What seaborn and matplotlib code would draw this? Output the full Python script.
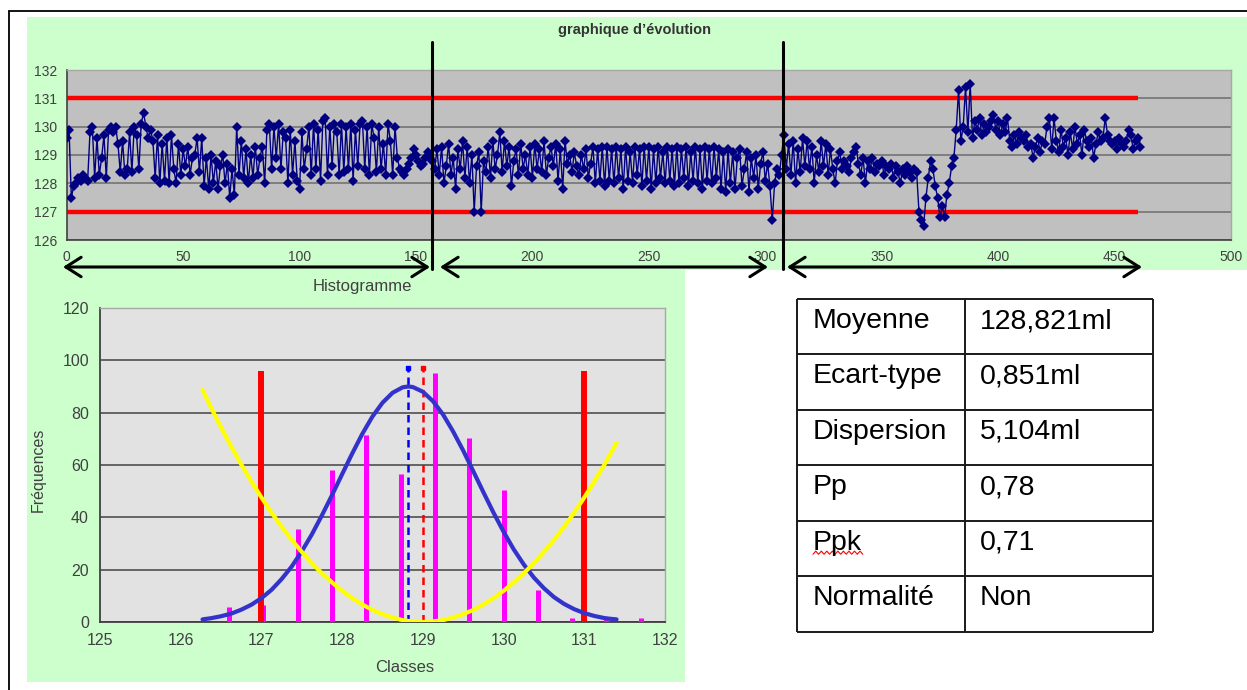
import numpy as np
import pandas as pd
import matplotlib
matplotlib.use("Agg")
import matplotlib.pyplot as plt
import seaborn as sns
from matplotlib.patches import Rectangle, FancyArrowPatch
from matplotlib.lines import Line2D

# ---------------- data ----------------
evo_values = [
    129.6, 129.9, 127.5, 127.9, 128.0, 128.2, 128.1, 128.3, 128.2, 128.1,
    129.8, 130.0, 128.2, 129.6, 128.3, 128.9, 129.7, 128.2, 129.9, 130.0,
    129.8, 130.0, 129.4, 128.4, 129.5, 128.3, 128.5, 129.8, 128.4, 130.0,
    129.7, 128.5, 130.1, 130.5, 130.0, 129.6, 129.9, 129.5, 128.2, 129.7,
    128.0, 129.4, 128.1, 129.6, 128.0, 129.7, 128.5, 128.0, 129.4, 128.3,
    129.2, 128.6, 129.3, 128.3, 128.9, 129.0, 129.6, 128.4, 129.6, 127.9,
    128.9, 127.8, 129.0, 128.0, 128.8, 127.8, 128.6, 129.0, 128.0, 128.7,
    127.5, 128.5, 127.6, 130.0, 128.3, 129.5, 128.2, 129.2, 128.0, 129.0,
    128.2, 129.3, 128.3, 128.9, 129.3, 128.0, 129.9, 130.1, 128.5, 130.0,
    128.9, 130.1, 128.5, 129.8, 129.6, 128.0, 129.9, 128.3, 129.5, 128.1,
    127.8, 129.8, 128.5, 129.2, 130.0, 128.3, 130.1, 128.5, 129.9, 128.1,
    130.2, 130.3, 128.3, 130.0, 128.6, 130.1, 129.8, 128.3, 130.1, 128.4,
    130.0, 128.5, 130.1, 128.1, 129.9, 128.6, 130.1, 130.2, 128.5, 130.0,
    128.3, 130.1, 129.6, 128.4, 130.0, 128.5, 129.4, 128.3, 130.1, 129.5,
    128.3, 130.0, 128.9, 128.5, 128.4, 128.3, 128.5, 128.7, 128.9, 129.2,
    129.0, 128.8, 128.6, 128.7, 128.9, 129.1, 128.9, 128.8, 128.5, 129.2,
    128.3, 129.3, 128.0, 128.6, 129.4, 128.3, 128.9, 127.8, 129.2, 128.5,
    129.5, 128.2, 129.3, 128.0, 129.0, 127.0, 128.6, 129.1, 127.0, 128.8,
    128.4, 129.3, 128.2, 129.5, 128.5, 129.0, 129.8, 128.4, 129.5, 128.6,
    129.3, 127.9, 128.8, 129.2, 128.3, 129.4, 128.5, 129.0, 128.3, 129.3,
    128.2, 129.4, 128.5, 129.2, 128.4, 129.5, 128.3, 128.9, 129.3, 128.6,
    129.4, 128.1, 129.2, 127.8, 129.5, 128.7, 129.0, 128.4, 129.1, 128.6,
    128.3, 129.0, 128.5, 129.2, 128.2, 128.7, 129.3, 128.0, 129.2, 128.1,
    129.3, 127.9, 129.3, 128.1, 129.2, 128.0, 129.3, 128.2, 129.2, 127.8,
    129.3, 128.1, 129.1, 128.0, 129.3, 128.3, 129.2, 127.9, 129.3, 128.1,
    129.3, 127.8, 129.2, 128.0, 129.3, 128.2, 129.1, 128.0, 129.3, 128.1,
    129.2, 127.9, 129.3, 128.0, 129.2, 128.2, 129.3, 127.9, 129.1, 128.1,
    129.3, 128.0, 129.2, 127.8, 129.3, 128.1, 129.2, 128.0, 129.3, 128.2,
    129.2, 127.8, 129.1, 127.7, 129.2, 128.0, 129.1, 127.8, 128.9, 129.2,
    127.9, 128.5, 129.1, 127.7, 128.9, 128.2, 129.0, 127.8, 128.7, 129.1,
    128.1, 128.7, 127.9, 126.7, 128.0, 128.5, 128.3, 129.0, 129.7, 128.5,
    129.4, 128.3, 129.5, 128.0, 129.2, 128.4, 129.6, 128.6, 129.5, 128.5,
    129.3, 128.0, 129.0, 128.4, 129.5, 128.6, 129.4, 128.3, 129.2, 128.5,
    128.0, 128.8, 129.1, 128.5, 128.8, 128.6, 128.4, 128.9, 129.1, 129.3,
    128.7, 128.3, 128.9, 128.0, 128.8, 128.5, 128.9, 128.4, 128.7, 128.6,
    128.8, 128.3, 128.6, 128.5, 128.7, 128.2, 128.6, 128.4, 128.0, 128.5,
    128.3, 128.6, 128.4, 128.2, 128.5, 128.4, 127.0, 126.7, 126.5, 127.5,
    128.2, 128.8, 128.5, 127.9, 127.5, 126.8, 127.2, 126.8, 127.6, 128.0,
    128.6, 128.9, 129.9, 131.3, 129.5, 130.0, 131.4, 129.8, 131.5, 129.6,
    130.2, 129.9, 130.3, 129.7, 130.1, 129.8, 130.0, 130.2, 130.4, 129.9,
    130.2, 129.7, 130.1, 129.8, 130.3, 129.5, 129.3, 129.7, 129.4, 129.8,
    129.6, 129.5, 129.7, 129.3, 129.4, 128.9, 129.3, 129.6, 129.1, 129.5,
    129.4, 130.0, 130.3, 129.2, 130.3, 129.5, 129.1, 129.9, 129.3, 129.6,
    129.0, 129.8, 129.2, 130.0, 129.4, 129.7, 129.0, 129.9, 129.5, 129.3,
    129.6, 128.9, 129.4, 129.8, 129.5, 129.6, 130.3, 129.7, 129.5, 129.4,
    129.5, 129.2, 129.6, 129.4, 129.3, 129.5, 129.9, 129.7, 129.2, 129.5,
    129.6, 129.3,
]
lsl, usl = 127, 131
limit_line_end = 460
evo_xticks = [0, 50, 100, 150, 200, 250, 300, 350, 400, 450, 500]
evo_yticks = [126, 127, 128, 129, 130, 131, 132]

hist_classes = [126.6, 127.025, 127.45, 127.875, 128.3, 128.725, 129.15,
                129.575, 130.0, 130.425, 130.85, 131.275, 131.7]
hist_freq = [5.8, 6.5, 35.5, 58, 71.5, 56.4, 95.3, 70.4, 50.4, 12.2, 1.5, 1.5, 1.5]

curve_x = [126.27, 126.375, 126.5, 126.625, 126.75, 126.875, 127.0, 127.125,
           127.25, 127.375, 127.5, 127.625, 127.75, 127.875, 128.0, 128.125,
           128.25, 128.375, 128.5, 128.625, 128.75, 128.82, 128.875, 129.0,
           129.125, 129.25, 129.375, 129.5, 129.625, 129.75, 129.875, 130.0,
           130.125, 130.25, 130.375, 130.5, 130.625, 130.75, 130.875, 131.0,
           131.125, 131.25, 131.33, 131.4]
normal_y = [1.0, 1.45, 2.2, 3.2, 4.7, 6.6, 9.1, 12.3,
            16.4, 21.2, 27.0, 33.5, 40.8, 48.5, 56.5, 64.4,
            71.9, 78.5, 83.8, 87.6, 89.7, 90.0, 89.8, 88.0,
            84.4, 79.3, 72.8, 65.5, 57.6, 49.6, 41.8, 34.5,
            27.8, 22.0, 17.0, 12.9, 9.5, 6.9, 4.9, 3.4,
            2.3, 1.5, 1.2, 1.0]
yellow_y = [88.7, 82.0, 74.4, 67.1, 60.2, 53.7, 47.6, 41.8,
            36.4, 31.4, 26.8, 22.5, 18.6, 15.1, 11.9, 9.1,
            6.7, 4.6, 3.0, 1.7, 0.7, 0.4, 0.2, 0.0,
            0.2, 0.7, 1.7, 3.0, 4.6, 6.7, 9.1, 11.9,
            15.1, 18.6, 22.5, 26.8, 31.4, 36.4, 41.8, 47.6,
            53.7, 60.2, 64.6, 68.5]
mean_val = 128.821
target_val = 129.0
limit_bar_height = 96
dashed_height = 97
hist_xticks = [125, 126, 127, 128, 129, 130, 131, 132]
hist_yticks = [0, 20, 40, 60, 80, 100, 120]

table_labels = ["Moyenne", "Ecart-type", "Dispersion", "Pp", "Ppk", "Normalité"]
table_values = ["128,821ml", "0,851ml", "5,104ml", "0,78", "0,71", "Non"]

# ---------------- style ----------------
sns.set_style("white")
plt.rcParams['font.family'] = ['Liberation Sans', 'DejaVu Sans']

W, H = 1247, 690
fig = plt.figure(figsize=(W / 100, H / 100), dpi=100)
fig.patch.set_facecolor('white')


def fx(px):
    return px / W


def fy(py):
    return 1 - py / H


green = '#CCFFCC'
fig.add_artist(Rectangle((fx(27), fy(270)), fx(1247) - fx(27), fy(17) - fy(270),
                         transform=fig.transFigure, facecolor=green, edgecolor='none', zorder=-5))
fig.add_artist(Rectangle((fx(27), fy(682)), fx(685) - fx(27), fy(270) - fy(682),
                         transform=fig.transFigure, facecolor=green, edgecolor='none', zorder=-5))
# outer frame
fig.add_artist(Line2D([fx(9), 1], [fy(11), fy(11)], transform=fig.transFigure, color='black', lw=1.3))
fig.add_artist(Line2D([fx(9), fx(9)], [fy(11), 0], transform=fig.transFigure, color='black', lw=1.3))

tick_col = '#404040'

# ---------------- evolution chart ----------------
ax1 = fig.add_axes([fx(66.7), fy(240), fx(1231) - fx(66.7), fy(70) - fy(240)])
ax1.set_facecolor('#C0C0C0')
df_evo = pd.DataFrame({'i': np.arange(len(evo_values)), 'v': evo_values})
ax1.hlines([lsl, usl], 0, limit_line_end, color='#FF0000', lw=3.2, zorder=2)
sns.lineplot(data=df_evo, x='i', y='v', ax=ax1, color='#000080', lw=1.0,
             marker='D', markersize=5, markeredgewidth=0, zorder=3)
ax1.set_xlim(0, 500)
ax1.set_ylim(126, 132)
ax1.set_xticks(evo_xticks)
ax1.set_yticks(evo_yticks)
ax1.yaxis.grid(True, color='#7A7A7A', lw=1.3)
ax1.xaxis.grid(False)
ax1.set_axisbelow(True)
ax1.set_xlabel('')
ax1.set_ylabel('')
for s in ['left', 'bottom']:
    ax1.spines[s].set_color(tick_col)
    ax1.spines[s].set_linewidth(1.2)
for s in ['top', 'right']:
    ax1.spines[s].set_color('#A8A8A8')
    ax1.spines[s].set_linewidth(1.0)
ax1.tick_params(direction='out', length=4, width=1, colors=tick_col, labelsize=10,
                labelcolor=tick_col, pad=3)

# ---------------- histogram ----------------
ax2 = fig.add_axes([fx(100), fy(622), fx(665) - fx(100), fy(308) - fy(622)])
ax2.set_facecolor('#E2E2E2')
ax2.vlines(hist_classes, 0, hist_freq, color='#FF00FF', lw=3.6, zorder=3)
ax2.vlines([lsl, usl], 0, limit_bar_height, color='#FF0000', lw=4.3, zorder=3)
ax2.vlines([mean_val], 0, dashed_height, color='#0000FF', lw=1.8,
           linestyles=[(0, (3, 2))], zorder=4)
ax2.vlines([target_val], 0, dashed_height, color='#FF0000', lw=1.8,
           linestyles=[(0, (3, 2))], zorder=4)
ax2.plot([mean_val], [dashed_height], marker='s', color='#0000FF', markersize=3.5, zorder=4)
ax2.plot([target_val], [dashed_height], marker='s', color='#FF0000', markersize=3.5, zorder=4)
sns.lineplot(x=curve_x, y=normal_y, ax=ax2, color='#3333CC', lw=3.0, zorder=5)
sns.lineplot(x=curve_x, y=yellow_y, ax=ax2, color='#FFFF00', lw=3.0, zorder=5)
ax2.set_xlim(125, 132)
ax2.set_ylim(0, 120)
ax2.set_xticks(hist_xticks)
ax2.set_yticks(hist_yticks)
ax2.yaxis.grid(True, color='#5A5A5A', lw=1.3)
ax2.xaxis.grid(False)
ax2.set_axisbelow(True)
ax2.set_xlabel('')
ax2.set_ylabel('')
for s in ['left', 'bottom']:
    ax2.spines[s].set_color(tick_col)
    ax2.spines[s].set_linewidth(1.3)
for s in ['top', 'right']:
    ax2.spines[s].set_color('#A8A8A8')
    ax2.spines[s].set_linewidth(1.0)
ax2.tick_params(direction='out', length=4, width=1.2, colors=tick_col, labelsize=11.5,
                labelcolor=tick_col, pad=4)

# ---------------- texts ----------------
fig.text(fx(635), fy(30), "graphique d’évolution", ha='center', va='center',
         fontsize=10.5, fontweight='bold', color='#333333')
fig.text(fx(362), fy(287), "Histogramme", ha='center', va='center', fontsize=12, color=tick_col)
fig.text(fx(38), fy(470), "Fréquences", ha='center', va='center', rotation=90,
         fontsize=11.5, color=tick_col)
fig.text(fx(405), fy(667), "Classes", ha='center', va='center', fontsize=12, color=tick_col)

# ---------------- separators and arrows ----------------
for xp in [432, 783]:
    fig.add_artist(Line2D([fx(xp), fx(xp)], [fy(42), fy(269)], transform=fig.transFigure,
                          color='black', lw=2.2, zorder=10))
for x0, x1 in [(63, 430), (440, 768), (787, 1142)]:
    fig.add_artist(FancyArrowPatch((fx(x0), fy(267)), (fx(x1), fy(267)),
                                   transform=fig.transFigure,
                                   arrowstyle='<->,head_length=1.1,head_width=0.7',
                                   mutation_scale=10, lw=2.2, color='black',
                                   shrinkA=0, shrinkB=0, zorder=10))

# ---------------- table ----------------
tax = fig.add_axes([fx(797), fy(631.7), fx(1152.7) - fx(797), fy(299) - fy(631.7)])
tax.set_xlim(0, 1)
tax.set_ylim(len(table_labels), 0)
tax.axis('off')
col_split = (965 - 797) / (1152.7 - 797)
tax.hlines(range(len(table_labels) + 1), 0, 1, color='#1A1A1A', lw=1.4, clip_on=False)
tax.vlines([0, col_split, 1], 0, len(table_labels), color='#1A1A1A', lw=1.4, clip_on=False)
for r, (lab, val) in enumerate(zip(table_labels, table_values)):
    tax.text(0.045, r + 0.523, lab, fontsize=20.5, va='baseline', ha='left', color='black')
    tax.text(0.514, r + 0.523, val, fontsize=20.5, va='baseline', ha='left', color='black')
# spell-check squiggle under "Ppk"
sq_x = np.linspace(0.045, 0.185, 19)
sq_y = 4.575 + 0.028 * np.array([(-1) ** k for k in range(len(sq_x))])
tax.plot(sq_x, sq_y, color='#FF0000', lw=0.8, clip_on=False)

fig.savefig('out.png', dpi=100, facecolor='white')
